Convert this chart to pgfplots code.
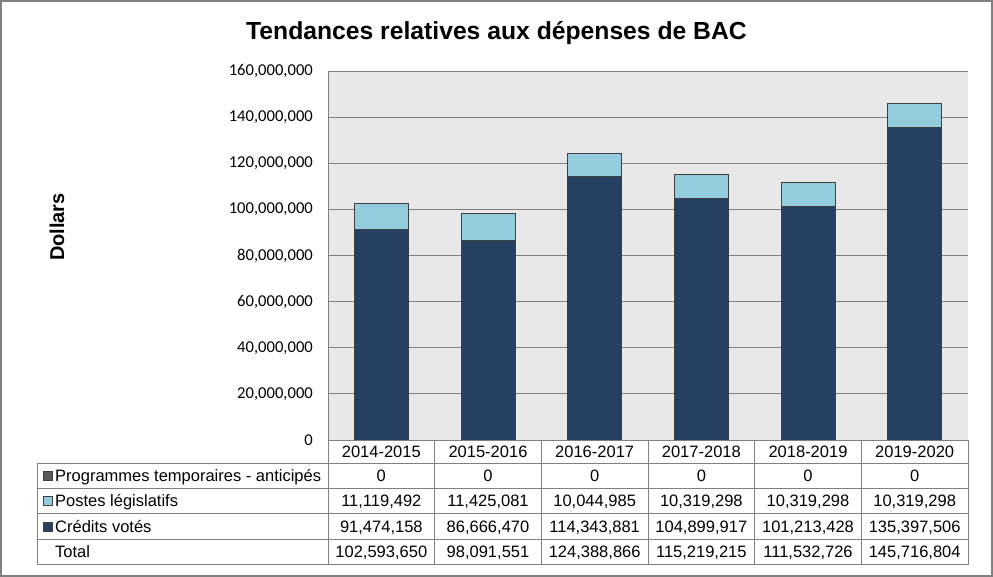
\documentclass[border=0pt]{standalone}
\usepackage{pgfplots}
\pgfplotsset{compat=1.18}
\usepackage{fontspec}
\setmainfont{Liberation Sans}
\newfontfamily\carlito{Carlito}
\definecolor{navy}{HTML}{254061}
\definecolor{aqua}{HTML}{93CDDD}
\definecolor{tmpgray}{HTML}{595959}
\definecolor{bgray}{HTML}{E8E8E8}
\definecolor{lgray}{HTML}{808080}
\definecolor{edge}{HTML}{404040}

\pgfplotstableread{
x credits postes temp
0 91474158 11119492 0
1 86666470 11425081 0
2 114343881 10044985 0
3 104899917 10319298 0
4 101213428 10319298 0
5 135397506 10319298 0
}\datatable

\begin{document}
\begin{tikzpicture}[x=1pt,y=1pt]
\path[use as bounding box] (0,0) rectangle (993,-577);
\draw[lgray, line width=2pt] (1,-1) rectangle (992,-576);
\node[font=\fontsize{24.7}{28}\selectfont\bfseries, anchor=base] at (496.5,-40) {Tendances relatives aux dépenses de BAC};
\node[font=\fontsize{20}{24}\selectfont\bfseries, rotate=90] at (57,-227) {Dollars};
\begin{axis}[
  at={(328pt,-440pt)}, anchor=south west,
  scale only axis, width=640pt, height=369pt,
  ybar stacked, bar width=54pt,
  xmin=-0.5, xmax=5.5, ymin=0, ymax=160000000,
  ytick={0,20000000,40000000,60000000,80000000,100000000,120000000,140000000,160000000},
  xtick=data,
  xticklabels={2014-2015,2015-2016,2016-2017,2017-2018,2018-2019,2019-2020},
  axis background/.style={fill=bgray},
  ymajorgrids, grid style={lgray, line width=0.8pt},
  axis lines*=left,
  axis line style={lgray, line width=0.8pt, -},
  major tick length=0pt,
  scaled y ticks=false,
  yticklabel style={font=\carlito\fontsize{16.6}{19}\selectfont, anchor=east, inner sep=0pt, xshift=-15pt,
    /pgf/number format/.cd, fixed, precision=0, 1000 sep={,}, assume math mode=true},
  xticklabel style={font=\fontsize{16.5}{19}\selectfont, anchor=base, inner sep=0pt, yshift=-17.2pt},
  every axis plot/.append style={draw=edge, line width=1pt},
]
\addplot[fill=navy] table[x=x, y=credits] {\datatable};
\addplot[fill=aqua] table[x=x, y=postes] {\datatable};
\addplot[fill=tmpgray] table[x=x, y=temp] {\datatable};
\end{axis}
% data table beneath the axis
\begin{scope}[lgray, line width=0.8pt]
  \draw (328,-440) -- (968,-440);
  \foreach \yy in {463,488,513.5,539,564.5} \draw (37,-\yy) -- (968,-\yy);
  \draw (37,-463) -- (37,-564.5);
  \foreach \i in {0,...,6} \draw ({328+\i*640/6},-440) -- ({328+\i*640/6},-564.5);
\end{scope}
\begin{scope}[every node/.style={font=\fontsize{16.5}{19}\selectfont, inner sep=0pt, anchor=base}]
  \fill[tmpgray, draw=edge, line width=0.5pt] (43,-471) rectangle (52,-480);
  \fill[aqua, draw=edge, line width=0.5pt] (43,-496.25) rectangle (52,-505.25);
  \fill[navy, draw=edge, line width=0.5pt] (43,-521.75) rectangle (52,-530.75);
  \node[anchor=base west] at (55,-481.2) {Programmes temporaires - anticipés};
  \node[anchor=base west] at (55,-506.5) {Postes législatifs};
  \node[anchor=base west] at (55,-532) {Crédits votés};
  \node[anchor=base west] at (55,-557.5) {Total};
  \foreach \v [count=\i from 0] in {0,0,0,0,0,0}
    \node at ({381.33+\i*640/6},-481.2) {\v};
  \foreach \v [count=\i from 0] in {{11,119,492},{11,425,081},{10,044,985},{10,319,298},{10,319,298},{10,319,298}}
    \node at ({381.33+\i*640/6},-506.5) {\v};
  \foreach \v [count=\i from 0] in {{91,474,158},{86,666,470},{114,343,881},{104,899,917},{101,213,428},{135,397,506}}
    \node at ({381.33+\i*640/6},-532) {\v};
  \foreach \v [count=\i from 0] in {{102,593,650},{98,091,551},{124,388,866},{115,219,215},{111,532,726},{145,716,804}}
    \node at ({381.33+\i*640/6},-557.5) {\v};
\end{scope}
\end{tikzpicture}
\end{document}
